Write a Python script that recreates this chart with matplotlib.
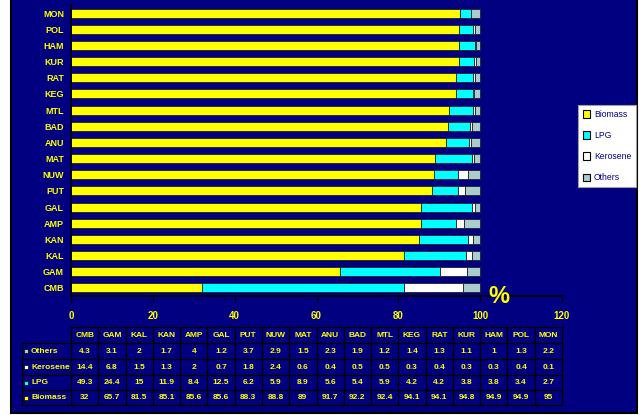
import numpy as np
import matplotlib.pyplot as plt
from matplotlib.patches import Rectangle, Patch

# household cooking fuel share (%) by district
districts = ['CMB', 'GAM', 'KAL', 'KAN', 'AMP', 'GAL', 'PUT', 'NUW', 'MAT',
             'ANU', 'BAD', 'MTL', 'KEG', 'RAT', 'KUR', 'HAM', 'POL', 'MON']
biomass = [32, 65.7, 81.5, 85.1, 85.6, 85.6, 88.3, 88.8, 89,
           91.7, 92.2, 92.4, 94.1, 94.1, 94.8, 94.9, 94.9, 95]
lpg = [49.3, 24.4, 15, 11.9, 8.4, 12.5, 6.2, 5.9, 8.9,
       5.6, 5.4, 5.9, 4.2, 4.2, 3.8, 3.8, 3.4, 2.7]
kerosene = [14.4, 6.8, 1.5, 1.3, 2, 0.7, 1.8, 2.4, 0.6,
            0.4, 0.5, 0.5, 0.3, 0.4, 0.3, 0.3, 0.4, 0.1]
others = [4.3, 3.1, 2, 1.7, 4, 1.2, 3.7, 2.9, 1.5,
          2.3, 1.9, 1.2, 1.4, 1.3, 1.1, 1, 1.3, 2.2]
xticks = [0, 20, 40, 60, 80, 100, 120]

NAVY = '#000080'
YEL = '#ffff00'
series = [('Biomass', biomass, '#ffff00'),
          ('LPG', lpg, '#00ffff'),
          ('Kerosene', kerosene, '#ffffff'),
          ('Others', others, '#a9cccc')]

plt.rcParams['font.family'] = ['Liberation Sans', 'DejaVu Sans']
plt.rcParams['font.weight'] = 'bold'

W, H = 641, 415
fig = plt.figure(figsize=(W / 100, H / 100), dpi=100)
fig.patch.set_facecolor('white')

# overlay in pixel coordinates for the background panel and the table
over = fig.add_axes([0, 0, 1, 1])
over.set_xlim(0, W)
over.set_ylim(H, 0)
over.axis('off')
over.add_patch(Rectangle((11, -2), 626, 415, facecolor=NAVY,
                         edgecolor='black', lw=1.5, zorder=0))

ax = fig.add_axes([71 / W, 1 - 296 / H, (562 - 71) / W, (296 - 5) / H])
ax.set_facecolor(NAVY)
ax.patch.set_alpha(0)

y = np.arange(len(districts))
left = np.zeros(len(districts))
for name, vals, col in series:
    ax.barh(y, vals, left=left, height=0.55, color=col,
            edgecolor='#202020', linewidth=0.6, label=name)
    left += np.array(vals)

ax.set_xlim(0, 120)
ax.set_ylim(-0.5, len(districts) - 0.5)
ax.set_xticks(xticks)
ax.set_yticks(y)
ax.set_yticklabels(districts)
for s in ['top', 'right']:
    ax.spines[s].set_visible(False)
for s in ['left', 'bottom']:
    ax.spines[s].set_color('black')
    ax.spines[s].set_linewidth(1.2)
ax.tick_params(axis='x', colors='black', labelcolor=YEL, labelsize=7,
               length=4, width=1, pad=7)
ax.tick_params(axis='y', length=0, labelcolor=YEL, labelsize=6.5, pad=5)
for lab in ax.get_xticklabels() + ax.get_yticklabels():
    lab.set_fontweight('bold')

ax.text(104.5, -0.5, '%', color=YEL, fontsize=17, fontweight='bold',
        ha='center', va='center', clip_on=False)

handles = [Patch(facecolor=c, edgecolor='black', linewidth=0.8, label=n)
           for n, _, c in series]
leg = fig.legend(handles=handles, loc='center left',
                 bbox_to_anchor=(578 / W, 1 - 146 / H), frameon=True,
                 fancybox=False, framealpha=1, fontsize=6.2,
                 handlelength=0.9, handleheight=0.9, handletextpad=0.4,
                 labelspacing=1.4, borderpad=0.55, borderaxespad=0)
leg.get_frame().set_facecolor('white')
leg.get_frame().set_edgecolor('#a0a0a0')
leg.get_frame().set_linewidth(0.8)
for t in leg.get_texts():
    t.set_color(NAVY)
    t.set_fontweight('normal')

# data table under the chart
col_x0, col_x1, lab_x0 = 71, 562, 22
row_edges = [327, 343, 359, 375, 390, 405]
ncol = len(districts)
cw = (col_x1 - col_x0) / ncol
rows = [('Others', others, '#a9cccc'), ('Kerosene', kerosene, '#ffffff'),
        ('LPG', lpg, '#00ffff'), ('Biomass', biomass, '#ffff00')]

lc = dict(color='black', lw=1.0, zorder=2)
over.plot([col_x0, col_x1], [row_edges[0]] * 2, **lc)
for yy in row_edges[1:]:
    over.plot([lab_x0, col_x1], [yy] * 2, **lc)
over.plot([lab_x0, lab_x0], [row_edges[1], row_edges[-1]], **lc)
for i in range(ncol + 1):
    xx = col_x0 + i * cw
    over.plot([xx, xx], [row_edges[0], row_edges[-1]], **lc)

for i, d in enumerate(districts):
    over.text(col_x0 + (i + 0.5) * cw, (row_edges[0] + row_edges[1]) / 2, d,
              color=YEL, fontsize=6, fontweight='bold', ha='center',
              va='center')
for r, (name, vals, col) in enumerate(rows):
    yc = (row_edges[r + 1] + row_edges[r + 2]) / 2
    over.add_patch(Rectangle((24, yc - 2), 4, 4, facecolor=col,
                             edgecolor='black', lw=0.5, zorder=3))
    over.text(31, yc, name, color=YEL, fontsize=6, fontweight='bold',
              ha='left', va='center')
    for i, v in enumerate(vals):
        over.text(col_x0 + (i + 0.5) * cw, yc, f'{v:g}', color=YEL,
                  fontsize=6, fontweight='bold', ha='center', va='center')

fig.savefig('out.png', dpi=100, facecolor=fig.get_facecolor())
